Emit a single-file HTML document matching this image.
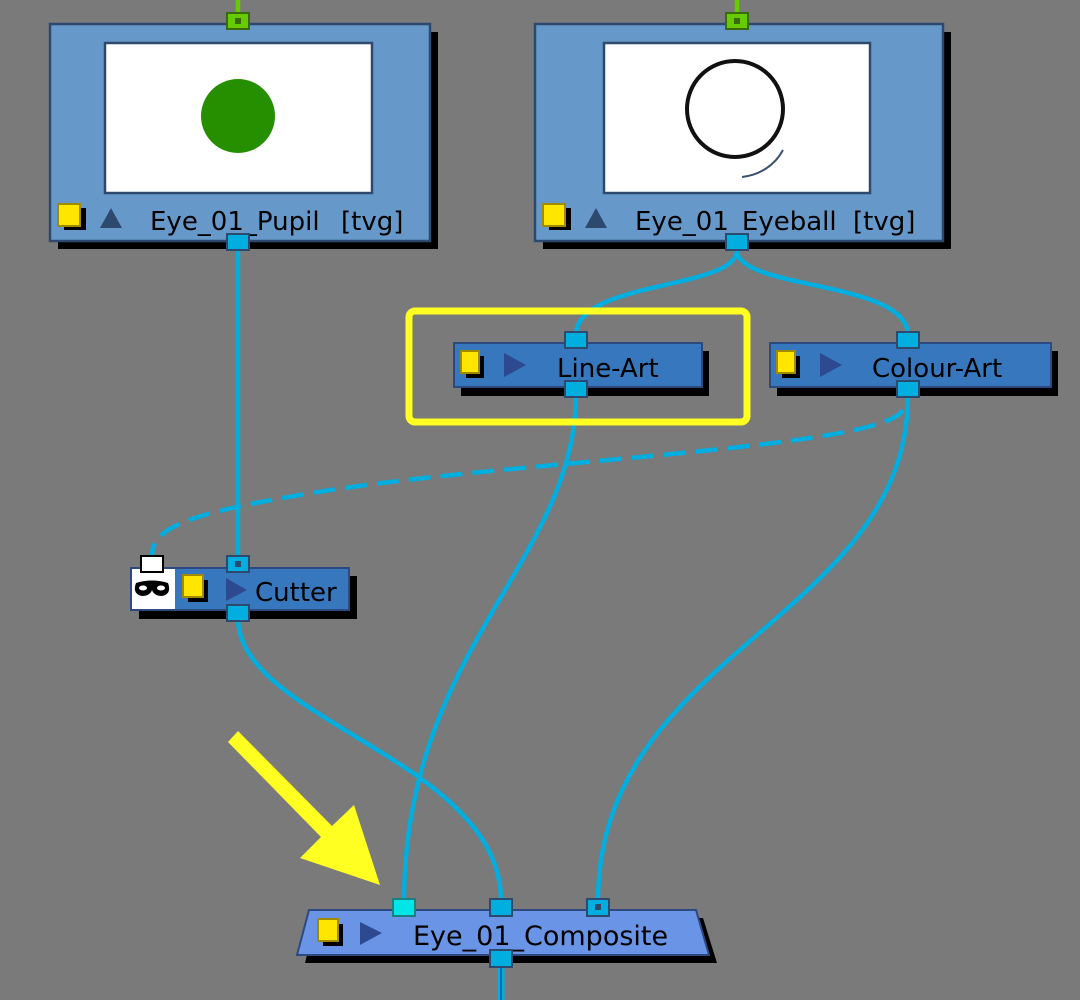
<!DOCTYPE html>
<html><head><meta charset="utf-8"><style>
html,body{margin:0;padding:0;background:#7a7a7a;}
svg{display:block;}
text{font-family:"DejaVu Sans","Liberation Sans",sans-serif;fill:#000;}
</style></head><body>
<svg width="1080" height="1000" viewBox="0 0 1080 1000" xmlns="http://www.w3.org/2000/svg">
<rect width="1080" height="1000" fill="#7a7a7a"/>
<g fill="none" stroke="#00aee0" stroke-width="4.5">
<path d="M238 250 L238 560"/>
<path d="M238 618 C238 720 500 760 501 900"/>
<path d="M737 250 C737 290 576 280 576 335"/>
<path d="M737 250 C737 290 908 280 908 335"/>
<path d="M576 395 C576 560 404 650 404 902"/>
<path d="M908 395 C908 620 598 650 598 902"/>
<path d="M903 410 C880 450 500 460 300 495 C180 515 152 530 152 556" stroke-dasharray="22,10"/>
<path d="M501 962 L501 1000" stroke-width="7"/>
</g>
<line x1="501" y1="962" x2="501" y2="1000" stroke="#0070b0" stroke-width="2"/>
<line x1="238" y1="0" x2="238" y2="15" stroke="#66cc00" stroke-width="4.5"/>
<line x1="737" y1="0" x2="737" y2="15" stroke="#66cc00" stroke-width="4.5"/>

<rect x="58" y="32" width="380" height="217" fill="#000"/>
<rect x="50" y="24" width="380" height="217" fill="#6699c9" stroke="#2d4a6e" stroke-width="2.5"/>
<rect x="105" y="43" width="267" height="150" fill="#fff" stroke="#2d4a6e" stroke-width="2.5"/>
<circle cx="238" cy="116" r="37" fill="#268f00"/>
<rect x="64" y="208" width="22" height="22" fill="#000"/>
<rect x="58" y="204" width="22" height="22" fill="#ffe600" stroke="#a08a00" stroke-width="2"/>
<polygon points="111,208 100,228 122,228" fill="#2d4a6e"/>
<text x="150" y="230" font-size="26">Eye_01_Pupil</text>
<text x="341" y="230" font-size="26">[tvg]</text>
<rect x="227" y="13" width="22" height="16" fill="#66cc00" stroke="#3a6a10" stroke-width="2"/>
<rect x="235" y="18" width="6" height="6" fill="#3a6a10"/>
<rect x="227" y="234" width="22" height="16" fill="#00aee0" stroke="#2d4a6e" stroke-width="2"/>

<rect x="543" y="32" width="408" height="217" fill="#000"/>
<rect x="535" y="24" width="408" height="217" fill="#6699c9" stroke="#2d4a6e" stroke-width="2.5"/>
<rect x="604" y="43" width="266" height="150" fill="#fff" stroke="#2d4a6e" stroke-width="2.5"/>
<circle cx="735" cy="109" r="48" fill="none" stroke="#111" stroke-width="4"/>
<path d="M783 150 C775 165 760 175 742 177" fill="none" stroke="#3a5070" stroke-width="2"/>
<rect x="549" y="208" width="22" height="22" fill="#000"/>
<rect x="543" y="204" width="22" height="22" fill="#ffe600" stroke="#a08a00" stroke-width="2"/>
<polygon points="596,208 585,228 607,228" fill="#2d4a6e"/>
<text x="635" y="230" font-size="26">Eye_01_Eyeball</text>
<text x="853" y="230" font-size="26">[tvg]</text>
<rect x="726" y="13" width="22" height="16" fill="#66cc00" stroke="#3a6a10" stroke-width="2"/>
<rect x="734" y="18" width="6" height="6" fill="#3a6a10"/>
<rect x="726" y="234" width="22" height="16" fill="#00aee0" stroke="#2d4a6e" stroke-width="2"/>

<rect x="409" y="311" width="338" height="111" rx="6" fill="none" stroke="#ffff22" stroke-width="7"/>

<rect x="461" y="351" width="248" height="45" fill="#000"/>
<rect x="454" y="343" width="248" height="44" fill="#3677bd" stroke="#2d4a80" stroke-width="2"/>
<rect x="466" y="356" width="18" height="22" fill="#000"/>
<rect x="461" y="351" width="18" height="22" fill="#ffe600" stroke="#a08a00" stroke-width="2"/>
<polygon points="504,353 504,377 526,365" fill="#2d4a90"/>
<text x="557" y="377" font-size="26">Line-Art</text>
<rect x="565" y="332" width="22" height="16" fill="#00aee0" stroke="#2d4a6e" stroke-width="2"/>
<rect x="565" y="381" width="22" height="16" fill="#00aee0" stroke="#2d4a6e" stroke-width="2"/>

<rect x="777" y="351" width="281" height="45" fill="#000"/>
<rect x="770" y="343" width="281" height="44" fill="#3677bd" stroke="#2d4a80" stroke-width="2"/>
<rect x="782" y="356" width="18" height="22" fill="#000"/>
<rect x="777" y="351" width="18" height="22" fill="#ffe600" stroke="#a08a00" stroke-width="2"/>
<polygon points="820,353 820,377 842,365" fill="#2d4a90"/>
<text x="872" y="377" font-size="26">Colour-Art</text>
<rect x="897" y="332" width="22" height="16" fill="#00aee0" stroke="#2d4a6e" stroke-width="2"/>
<rect x="897" y="381" width="22" height="16" fill="#00aee0" stroke="#2d4a6e" stroke-width="2"/>

<rect x="139" y="576" width="218" height="43" fill="#000"/>
<rect x="131" y="568" width="218" height="42" fill="#3677bd" stroke="#2d4a80" stroke-width="2"/>
<rect x="132" y="569" width="43" height="40" fill="#fff"/>
<rect x="141" y="556" width="22" height="16" fill="#fff" stroke="#000" stroke-width="2"/>
<path d="M136 583 Q152 578 168 583 Q172 594 162 596 Q154 596 152 590 Q150 596 142 596 Q132 594 136 583 Z" fill="#000"/>
<ellipse cx="143" cy="588" rx="4" ry="2.5" fill="#fff"/>
<ellipse cx="161" cy="588" rx="4" ry="2.5" fill="#fff"/>
<rect x="188" y="580" width="20" height="22" fill="#000"/>
<rect x="183" y="575" width="20" height="22" fill="#ffe600" stroke="#a08a00" stroke-width="2"/>
<polygon points="226,578 226,601 247,590" fill="#2d4a90"/>
<text x="255" y="601" font-size="26">Cutter</text>
<rect x="227" y="556" width="22" height="16" fill="#00aee0" stroke="#2d4a6e" stroke-width="2"/>
<rect x="235" y="561" width="6" height="6" fill="#2d4a6e"/>
<rect x="227" y="605" width="22" height="16" fill="#00aee0" stroke="#2d4a6e" stroke-width="2"/>

<polygon points="238,731 332,826 354,805 380,885 300,858 321,837 228,742" fill="#ffff22"/>

<polygon points="316,918 703,918 717,963 305,963" fill="#000"/>
<polygon points="309,910 696,910 709,955 297,955" fill="#6a95e6" stroke="#2d4a80" stroke-width="2"/>
<rect x="323" y="924" width="20" height="22" fill="#000"/>
<rect x="318" y="919" width="20" height="22" fill="#ffe600" stroke="#a08a00" stroke-width="2"/>
<polygon points="360,922 360,945 382,933" fill="#2d4a90"/>
<text x="413" y="945" font-size="27">Eye_01_Composite</text>
<rect x="393" y="899" width="22" height="17" fill="#00e5e5" stroke="#1a8080" stroke-width="2"/>
<rect x="490" y="899" width="22" height="17" fill="#00aee0" stroke="#2d4a6e" stroke-width="2"/>
<rect x="587" y="899" width="22" height="17" fill="#00aee0" stroke="#2d4a6e" stroke-width="2"/>
<rect x="595" y="904" width="6" height="6" fill="#2d4a6e"/>
<rect x="490" y="950" width="22" height="17" fill="#00aee0" stroke="#2d4a6e" stroke-width="2"/>
</svg>
</body></html>
